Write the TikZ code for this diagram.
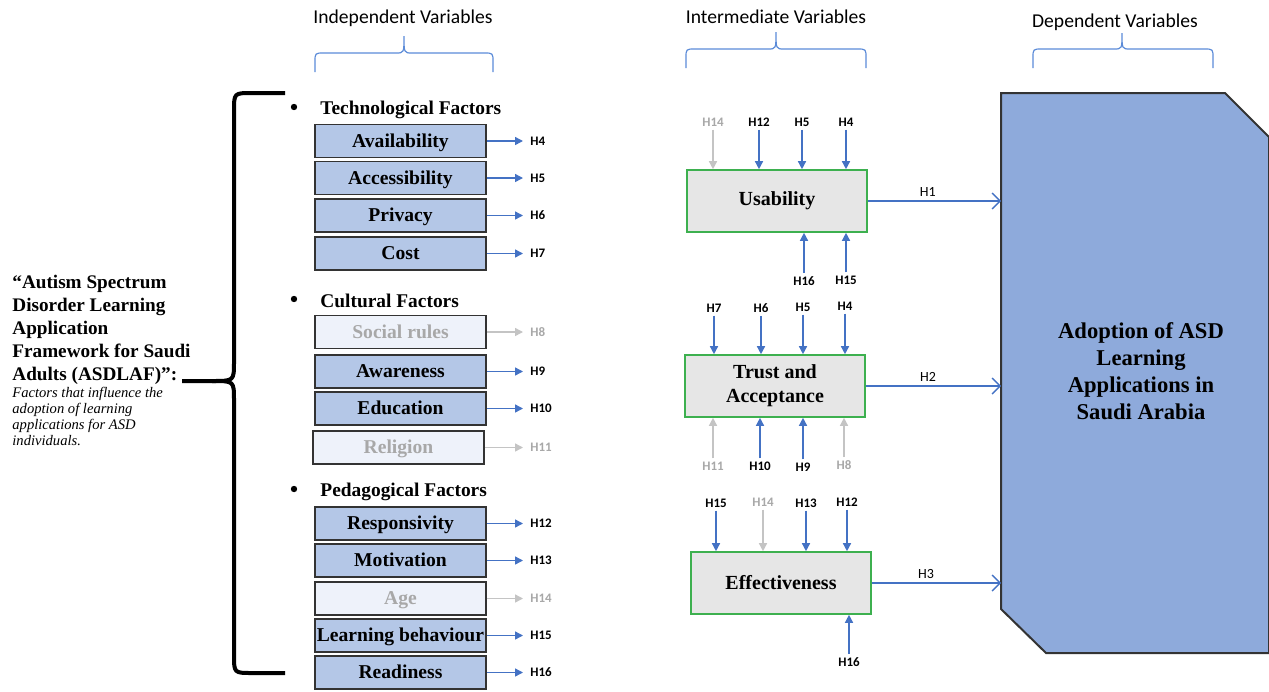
\documentclass[tikz,border=0pt]{standalone}
\usepackage{fontspec}
\setmainfont{Liberation Serif}
\newfontfamily\calfont{Carlito}
\usepackage{tikz}
\usetikzlibrary{arrows.meta}
\usetikzlibrary{quotes}

\definecolor{facblue}{HTML}{B4C7E7}
\definecolor{facpale}{HTML}{EEF2FA}
\definecolor{fadegrey}{HTML}{A8A8A8}
\definecolor{arrblue}{HTML}{4472C4}
\definecolor{arrgrey}{HTML}{C4C4C4}
\definecolor{bracelblue}{HTML}{5B8BD8}
\definecolor{vgreen}{HTML}{3DB04F}
\definecolor{vgrey}{HTML}{E6E6E6}
\definecolor{adoptblue}{HTML}{8EAADB}

\begin{document}
\begin{tikzpicture}[x=0.5pt,y=-0.5pt,
    fbox/.style={draw=black!80,line width=0.8pt,fill=facblue,minimum width=85.5pt,minimum height=16.5pt,inner sep=0pt,text height=7.4pt,text depth=1pt,font=\bfseries\fontsize{9.8}{11}\selectfont},
    pbox/.style={fbox,fill=facpale,text=fadegrey},
    vbox/.style={draw=vgreen,line width=0.8pt,fill=vgrey,minimum width=90pt,minimum height=31pt,inner sep=0pt,align=center,font=\bfseries\fontsize{10}{12}\selectfont},
    hlab/.style={font=\calfont\bfseries\fontsize{6.5}{7}\selectfont,inner sep=1.5pt},
    hlabg/.style={hlab,text=fadegrey},
    arr/.style={-{Triangle[length=4pt,width=4pt]},line width=0.7pt,draw=arrblue},
    arrg/.style={arr,draw=arrgrey},
    larr/.style={arr,shorten >=2pt},
    larrg/.style={arrg,shorten >=2pt},
    outarr/.style={-{Straight Barb[length=4pt,width=8pt]},line width=0.7pt,draw=arrblue},
    every edge quotes/.style={font=\calfont\fontsize{7}{8}\selectfont,above,inner sep=2pt},
    vhead/.style={font=\calfont\fontsize{9.8}{11}\selectfont},
    vbrace/.style={draw=bracelblue,line width=0.6pt},
    bul/.style={circle,fill=black,inner sep=0pt,minimum size=3.2pt},
    fac/.style={anchor=west,inner sep=0pt,font=\bfseries\fontsize{9.7}{11}\selectfont}]

      \useasboundingbox (0,0) rectangle (1269,691);

      % headings and blue braces
      \node[vhead] (indep) at (403,18) {Independent Variables};
      \node[vhead] (inter) at (776,17) {Intermediate Variables};
      \node[vhead] (depen) at (1115,22) {Dependent Variables};

      \draw[vbrace] (315,72) -- (315,62) .. controls (315,53) .. (324,53) -- (396,53) .. controls (404,53) .. (404,36)
                    .. controls (404,53) .. (412,53) -- (484,53) .. controls (493,53) .. (493,62) -- (493,72);
      \draw[vbrace] (686,68) -- (686,58) .. controls (686,49) .. (695,49) -- (768,49) .. controls (776,49) .. (776,32)
                    .. controls (776,49) .. (784,49) -- (857,49) .. controls (866,49) .. (866,58) -- (866,68);
      \draw[vbrace] (1033,68) -- (1033,58) .. controls (1033,49) .. (1042,49) -- (1114,49) .. controls (1122,49) .. (1122,33)
                    .. controls (1122,49) .. (1130,49) -- (1204,49) .. controls (1213,49) .. (1213,58) -- (1213,68);

      % framework title and black brace
      \node[anchor=north west,align=left,inner sep=0pt,font=\bfseries\fontsize{9.6}{11.5}\selectfont] (title) at (12,275)
            {“Autism Spectrum\\Disorder Learning\\Application\\Framework for Saudi\\Adults (ASDLAF)”:};
      \node[anchor=north west,align=left,inner sep=0pt,font=\itshape\fontsize{7.3}{7.9}\selectfont] (desc) at (12,387)
            {Factors that influence the\\adoption of learning\\applications for ASD\\individuals.};

      \draw[line width=2pt] (285,93) -- (252,93) .. controls (234,93) .. (234,111) -- (234,362) .. controls (234,381) .. (212,381) -- (182,381);
      \draw[line width=2pt] (212,381) .. controls (234,381) .. (234,400) -- (234,655) .. controls (234,673) .. (252,673) -- (285,673);

      % factor groups
      \node[bul] (bul1) at (294,107) {};
      \node[fac] (tech) at (320,110) {Technological Factors};
      \node[bul] (bul2) at (294,299) {};
      \node[fac] (cult) at (320,301) {Cultural Factors};
      \node[bul] (bul3) at (294,489) {};
      \node[fac] (peda) at (320,492) {Pedagogical Factors};

      \node[fbox] (avail)  at (400.5,141) {Availability};
      \node[fbox] (access) at (400.5,178) {Accessibility};
      \node[fbox] (priv)   at (400.5,215.5) {Privacy};
      \node[fbox] (cost)   at (400.5,253.5) {Cost};

      \node[pbox] (social) at (400.5,332) {Social rules};
      \node[fbox] (aware)  at (400.5,371.5) {Awareness};
      \node[fbox] (educ)   at (400.5,408.5) {Education};
      \node[pbox] (relig)  at (398.5,447.5) {Religion};

      \node[fbox] (resp)   at (400.5,523.5) {Responsivity};
      \node[fbox] (motiv)  at (400.5,560.5) {Motivation};
      \node[pbox] (age)    at (400.5,598.5) {Age};
      \node[fbox] (learn)  at (400.5,635.5) {Learning behaviour};
      \node[fbox] (ready)  at (400.5,672.5) {Readiness};

      \node[hlab,anchor=west]  (h4)  at (527,141) {H4};
      \node[hlab,anchor=west]  (h5)  at (527,178) {H5};
      \node[hlab,anchor=west]  (h6)  at (527,215.5) {H6};
      \node[hlab,anchor=west]  (h7)  at (527,253.5) {H7};
      \node[hlabg,anchor=west] (h8)  at (527,332) {H8};
      \node[hlab,anchor=west]  (h9)  at (527,371.5) {H9};
      \node[hlab,anchor=west]  (h10) at (527,408.5) {H10};
      \node[hlabg,anchor=west] (h11) at (527,447.5) {H11};
      \node[hlab,anchor=west]  (h12) at (527,523.5) {H12};
      \node[hlab,anchor=west]  (h13) at (527,560.5) {H13};
      \node[hlabg,anchor=west] (h14) at (527,598.5) {H14};
      \node[hlab,anchor=west]  (h15) at (527,635.5) {H15};
      \node[hlab,anchor=west]  (h16) at (527,672.5) {H16};

      \draw (avail) edge[larr] (h4);
      \draw (access) edge[larr] (h5);
      \draw (priv) edge[larr] (h6);
      \draw (cost) edge[larr] (h7);
      \draw (social) edge[larrg] (h8);
      \draw (aware) edge[larr] (h9);
      \draw (educ) edge[larr] (h10);
      \draw (relig) edge[larrg] (h11);
      \draw (resp) edge[larr] (h12);
      \draw (motiv) edge[larr] (h13);
      \draw (age) edge[larrg] (h14);
      \draw (learn) edge[larr] (h15);
      \draw (ready) edge[larr] (h16);

      % intermediate variables
      \node[vbox] (usab)  at (777,201) {Usability};
      \node[vbox] (trust) at (775,386) {Trust and\\Acceptance};
      \node[vbox] (effec) at (781,583) {Effectiveness};

      \node[hlabg] (u14) at (713,122) {H14};
      \node[hlab]  (u12) at (759,122) {H12};
      \node[hlab]  (u5)  at (802,122) {H5};
      \node[hlab]  (u4)  at (846,122) {H4};
      \node[hlab]  (u16) at (804,281) {H16};
      \node[hlab]  (u15) at (846,280) {H15};

      \draw[arrg] (u14) -- (u14 |- usab.north);
      \draw[arr] (u12) -- (u12 |- usab.north);
      \draw[arr] (u5) -- (u5 |- usab.north);
      \draw[arr] (u4) -- (u4 |- usab.north);
      \draw[arr] (u16) -- (u16 |- usab.south);
      \draw[arr] (u15) -- (u15 |- usab.south);

      \node[hlab]  (t7)  at (714,308) {H7};
      \node[hlab]  (t6)  at (761,308) {H6};
      \node[hlab]  (t5)  at (803,307) {H5};
      \node[hlab]  (t4)  at (845,306) {H4};
      \node[hlabg] (t11) at (713,466) {H11};
      \node[hlab]  (t10) at (760,466) {H10};
      \node[hlab]  (t9)  at (803,467) {H9};
      \node[hlabg] (t8)  at (844,465) {H8};

      \draw[arr] (t7) -- (t7 |- trust.north);
      \draw[arr] (t6) -- (t6 |- trust.north);
      \draw[arr] (t5) -- (t5 |- trust.north);
      \draw[arr] (t4) -- (t4 |- trust.north);
      \draw[arrg] (t11) -- (t11 |- trust.south);
      \draw[arr] (t10) -- (t10 |- trust.south);
      \draw[arr] (t9) -- (t9 |- trust.south);
      \draw[arrg] (t8) -- (t8 |- trust.south);

      \node[hlab]  (e15) at (716,503) {H15};
      \node[hlabg] (e14) at (763,502) {H14};
      \node[hlab]  (e13) at (806,503) {H13};
      \node[hlab]  (e12) at (847,502) {H12};
      \node[hlab]  (e16) at (849,662) {H16};

      \draw[arr] (e15) -- (e15 |- effec.north);
      \draw[arrg] (e14) -- (e14 |- effec.north);
      \draw[arr] (e13) -- (e13 |- effec.north);
      \draw[arr] (e12) -- (e12 |- effec.north);
      \draw[arr] (e16) -- (e16 |- effec.south);

      % dependent variable
      \draw[fill=adoptblue,draw=black!80,line width=1pt] (1001,93) -- (1225,93) -- (1269,137) -- (1269,653) -- (1046,653) -- (1001,609) -- cycle;
      \node[align=center,font=\bfseries\fontsize{11.3}{13.5}\selectfont] (adopt) at (1141,371)
            {Adoption of ASD\\Learning\\Applications in\\Saudi Arabia};
      \coordinate (adleft) at (1001,371);

      \draw (usab) edge["H1", outarr, pos=0.45] (usab.east -| adleft);
      \draw (trust) edge["H2", outarr, pos=0.46] (trust.east -| adleft);
      \draw (effec) edge["H3", outarr, pos=0.42] (effec.east -| adleft);
\end{tikzpicture}
\end{document}
